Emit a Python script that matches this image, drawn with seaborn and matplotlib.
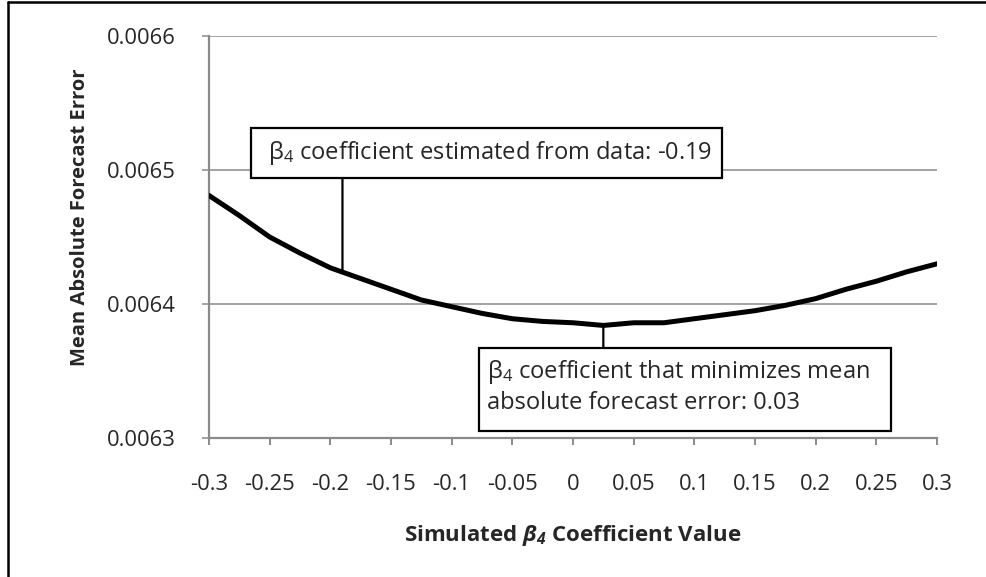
import matplotlib
matplotlib.use("Agg")
import matplotlib.pyplot as plt
from matplotlib.patches import Rectangle
from matplotlib.lines import Line2D
import numpy as np
import pandas as pd
import seaborn as sns

# simulated coefficient values and the mean absolute forecast error
beta4 = [-0.3, -0.275, -0.25, -0.225, -0.2, -0.175, -0.15, -0.125, -0.1, -0.075,
         -0.05, -0.025, 0.0, 0.025, 0.05, 0.075, 0.1, 0.125, 0.15, 0.175,
         0.2, 0.225, 0.25, 0.275, 0.3]
mafe = [0.006481, 0.006466, 0.006450, 0.006438, 0.006427, 0.006419, 0.006411, 0.006403,
        0.006398, 0.006393, 0.006389, 0.006387, 0.006386, 0.006384, 0.006386, 0.006386,
        0.006389, 0.006392, 0.006395, 0.006399, 0.006404, 0.006411, 0.006417, 0.006424,
        0.006430]
estimated_beta = -0.19
optimal_beta = 0.025

x_ticks = [-0.3, -0.25, -0.2, -0.15, -0.1, -0.05, 0, 0.05, 0.1, 0.15, 0.2, 0.25, 0.3]
x_tick_labels = ["-0.3", "-0.25", "-0.2", "-0.15", "-0.1", "-0.05", "0",
                 "0.05", "0.1", "0.15", "0.2", "0.25", "0.3"]
y_ticks = [0.0063, 0.0064, 0.0065, 0.0066]
y_tick_labels = ["0.0063", "0.0064", "0.0065", "0.0066"]

df = pd.DataFrame({"beta4": beta4, "mafe": mafe})

sns.set_theme(style="white")
plt.rcParams["font.family"] = ["Open Sans", "DejaVu Sans"]
plt.rcParams["mathtext.fontset"] = "custom"
plt.rcParams["mathtext.rm"] = "Open Sans"
plt.rcParams["mathtext.it"] = "Open Sans:italic"
plt.rcParams["mathtext.bf"] = "Open Sans:bold"
plt.rcParams["mathtext.bfit"] = "Open Sans:bold:italic"

grey = "#8a8a8a"
tick_fs = 15.8
box_fs = 17
label_fs = 14.5

fig = plt.figure(figsize=(9.86, 5.77), dpi=100)
ax = fig.add_axes([209 / 986, 1 - 438 / 577, 728 / 986, 402 / 577])

sns.lineplot(data=df, x="beta4", y="mafe", ax=ax, color="black", lw=3.6,
             solid_capstyle="round", solid_joinstyle="round", zorder=3)

ax.set_xlim(-0.3, 0.3)
ax.set_ylim(0.0063, 0.0066)
ax.set_xticks(x_ticks)
ax.set_xticklabels(x_tick_labels)
ax.set_yticks(y_ticks)
ax.set_yticklabels(y_tick_labels)
ax.yaxis.grid(True, color=grey, lw=1.1)
ax.xaxis.grid(False)
for side in ["top", "right"]:
    ax.spines[side].set_visible(False)
for side in ["left", "bottom"]:
    ax.spines[side].set_color(grey)
    ax.spines[side].set_linewidth(1.6)
ax.tick_params(axis="x", direction="out", length=5, width=1.4, color=grey,
               labelsize=tick_fs, pad=21, bottom=True)
ax.tick_params(axis="y", direction="out", length=5, width=1.1, color=grey,
               labelsize=tick_fs, pad=19, left=True)

ax.set_xlabel(r"Simulated $\mathbfit{\beta_4}$ Coefficient Value",
              fontsize=16, fontweight="bold", labelpad=20)
ax.set_ylabel("Mean Absolute Forecast Error", fontsize=label_fs, fontweight="bold")
ax.yaxis.set_label_coords(-0.163, 0.55)

# annotation 1: estimated coefficient
y_est = np.interp(estimated_beta, beta4, mafe)
box1 = (0.0577, 0.6468, 0.647, 0.1244)
ax.add_patch(Rectangle(box1[:2], box1[2], box1[3], transform=ax.transAxes,
                       facecolor="white", edgecolor="black", lw=1.6,
                       clip_on=False, zorder=4))
ax.text(0.081, 0.709, r"$\mathrm{\beta_4}$ coefficient estimated from data: -0.19",
        transform=ax.transAxes, fontsize=box_fs, ha="left", va="center", zorder=5)
ax.annotate("", xy=(estimated_beta, y_est), xycoords="data",
            xytext=(estimated_beta, box1[1]), textcoords=("data", "axes fraction"),
            arrowprops=dict(arrowstyle="-", color="black", lw=1.6,
                            shrinkA=0, shrinkB=0), zorder=2)

# annotation 2: coefficient that minimizes the error
y_opt = np.interp(optimal_beta, beta4, mafe)
box2 = (0.3709, 0.0174, 0.5659, 0.2065)
ax.add_patch(Rectangle(box2[:2], box2[2], box2[3], transform=ax.transAxes,
                       facecolor="white", edgecolor="black", lw=1.6,
                       clip_on=False, zorder=4))
ax.text(0.3819, 0.128,
        "$\\mathrm{\\beta_4}$ coefficient that minimizes mean\nabsolute forecast error: 0.03",
        transform=ax.transAxes, fontsize=box_fs, ha="left", va="center",
        linespacing=1.25, zorder=5)
ax.annotate("", xy=(optimal_beta, y_opt), xycoords="data",
            xytext=(optimal_beta, box2[1] + box2[3]), textcoords=("data", "axes fraction"),
            arrowprops=dict(arrowstyle="-", color="black", lw=1.6,
                            shrinkA=0, shrinkB=0), zorder=2)

# outer chart frame (left and top edges visible in the crop)
fig.add_artist(Line2D([8 / 986, 8 / 986], [0, 1 - 2 / 577], color="black", lw=1.8))
fig.add_artist(Line2D([8 / 986, 1], [1 - 2 / 577, 1 - 2 / 577], color="black", lw=1.8))

fig.savefig("out.png", dpi=100)
